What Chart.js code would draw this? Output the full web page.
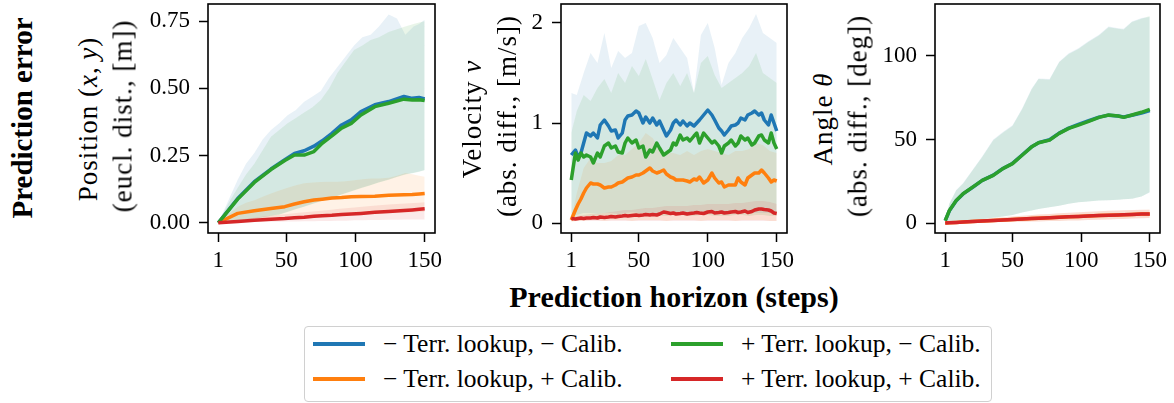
<!DOCTYPE html>
<html>
<head>
<meta charset="utf-8">
<script src="https://cdn.jsdelivr.net/npm/chart.js@4.4.1/dist/chart.umd.min.js"></script>
<style>
  body { margin: 0; background: #fff; }
  #fig { position: relative; width: 1174px; height: 403px; overflow: hidden; background: #fff;
         font-family: 'Liberation Serif', 'DejaVu Serif', serif; color: #000; }
  canvas { position: absolute; top: 0; }
  .rot { position: absolute; white-space: nowrap; transform: translate(-50%, -50%) rotate(-90deg); }
  .lbl { font-size: 27px; letter-spacing: 1px; }
  .bold { font-weight: bold; font-size: 30px; }
  #ytitle { font-size: 29px; }
  #xtitle { position: absolute; left: 674px; top: 297px; transform: translate(-50%, -50%); white-space: nowrap; }
  #legend { position: absolute; left: 304px; top: 326px; width: 686px; height: 74px;
            border: 1.5px solid #d0d0d0; border-radius: 4px; font-size: 25.5px; }
  .item { position: absolute; white-space: nowrap; }
  .swatch { position: absolute; width: 52px; height: 3.5px; }
</style>
</head>
<body>
<div id="fig">
  <canvas id="c1" width="325" height="280" style="left:118px"></canvas>
  <canvas id="c2" width="324" height="280" style="left:471px"></canvas>
  <canvas id="c3" width="323" height="280" style="left:845px"></canvas>

  <div id="ytitle" class="rot bold" style="left:22px; top:118px">Prediction error</div>
  <div class="rot lbl" style="left:88px; top:119px">Position (<i>x</i>,&#8201;<i>y</i>)</div>
  <div class="rot lbl" style="left:123px; top:116px">(eucl. dist., [m])</div>
  <div class="rot lbl" style="left:472px; top:119px">Velocity <i>v</i></div>
  <div class="rot lbl" style="left:507px; top:116px">(abs. diff., [m/s])</div>
  <div class="rot lbl" style="left:823px; top:119px">Angle <i>θ</i></div>
  <div class="rot lbl" style="left:858px; top:116px">(abs. diff., [deg])</div>
  <div id="xtitle" class="bold">Prediction horizon (steps)</div>

  <div id="legend"></div>
</div>
<script>
// colours (matplotlib tab10)
const colors = { blue: '#1f77b4', orange: '#ff7f0e', green: '#2ca02c', red: '#d62728' };
const bandFill = {
  blue: 'rgba(31,119,180,0.1)', orange: 'rgba(255,127,14,0.1)',
  green: 'rgba(44,160,44,0.1)', red: 'rgba(214,39,40,0.1)'
};

const xTicks = [1, 50, 100, 150];

// ---- Position (x, y) ----
const posSteps = [1, 15, 27, 39, 49, 56, 63, 70, 76, 83, 90, 97, 104, 114, 124, 135, 141, 146, 150];
const posBlue = [0, 0.09, 0.153, 0.2, 0.235, 0.258, 0.268, 0.285, 0.305, 0.333, 0.364, 0.383, 0.414, 0.439, 0.451, 0.47, 0.463, 0.466, 0.461];
const posGreen = [0, 0.088, 0.15, 0.198, 0.232, 0.252, 0.252, 0.265, 0.296, 0.323, 0.352, 0.37, 0.401, 0.432, 0.445, 0.46, 0.457, 0.458, 0.455];
const posOrange = [0, 0.035, 0.045, 0.053, 0.06, 0.07, 0.078, 0.085, 0.088, 0.092, 0.094, 0.097, 0.098, 0.099, 0.102, 0.104, 0.105, 0.107, 0.109];
const posRed = [0, 0.005, 0.009, 0.013, 0.016, 0.019, 0.021, 0.024, 0.026, 0.028, 0.031, 0.033, 0.035, 0.039, 0.042, 0.046, 0.048, 0.05, 0.052];

const posBandSteps = [1, 8, 15, 21, 27, 33, 39, 45, 51, 57, 63, 69, 75, 81, 87, 93, 99, 105, 111, 117, 124, 130, 136, 142, 146, 150];
const posBlueHi = [0, 0.08, 0.16, 0.22, 0.26, 0.31, 0.345, 0.37, 0.4, 0.42, 0.45, 0.47, 0.49, 0.54, 0.58, 0.62, 0.66, 0.69, 0.7, 0.73, 0.775, 0.76, 0.7, 0.73, 0.74, 0.755];
const posBlueLo = [0, 0.004, 0.008, 0.011, 0.016, 0.021, 0.026, 0.032, 0.041, 0.051, 0.061, 0.071, 0.081, 0.091, 0.101, 0.111, 0.121, 0.131, 0.141, 0.151, 0.161, 0.171, 0.181, 0.186, 0.191, 0.196];
const posGreenHi = [0, 0.07, 0.13, 0.18, 0.22, 0.27, 0.32, 0.345, 0.37, 0.39, 0.41, 0.43, 0.457, 0.5, 0.557, 0.6, 0.643, 0.66, 0.68, 0.69, 0.71, 0.72, 0.73, 0.74, 0.745, 0.75];
const posGreenLo = [0, 0.003, 0.007, 0.01, 0.015, 0.02, 0.025, 0.03, 0.04, 0.05, 0.06, 0.07, 0.08, 0.09, 0.1, 0.11, 0.12, 0.13, 0.14, 0.15, 0.16, 0.17, 0.18, 0.185, 0.19, 0.195];
const posOrangeHi = [0, 0.03, 0.06, 0.075, 0.084, 0.097, 0.109, 0.12, 0.13, 0.14, 0.147, 0.15, 0.152, 0.153, 0.153, 0.155, 0.158, 0.162, 0.165, 0.165, 0.168, 0.175, 0.185, 0.18, 0.175, 0.171];
const posOrangeLo = [0, 0.005, 0.01, 0.012, 0.014, 0.016, 0.018, 0.02, 0.022, 0.024, 0.026, 0.027, 0.028, 0.029, 0.03, 0.031, 0.032, 0.033, 0.034, 0.035, 0.036, 0.037, 0.038, 0.039, 0.04, 0.04];
const posRedHi = [0, 0.006, 0.011, 0.015, 0.019, 0.023, 0.026, 0.03, 0.033, 0.036, 0.039, 0.042, 0.045, 0.048, 0.051, 0.054, 0.057, 0.06, 0.062, 0.065, 0.068, 0.07, 0.072, 0.074, 0.075, 0.076];
const posRedLo = [0, 0.001, 0.002, 0.002, 0.003, 0.003, 0.004, 0.004, 0.005, 0.005, 0.006, 0.006, 0.007, 0.007, 0.008, 0.008, 0.009, 0.009, 0.01, 0.01, 0.011, 0.011, 0.012, 0.012, 0.012, 0.012];

// ---- Velocity v ----
const velSteps = [1, 4, 6, 8, 10, 12, 15, 17, 20, 22, 25, 28, 30, 33, 35, 38, 40, 42, 45, 48, 50, 53, 55, 58, 60, 63, 65, 68, 70, 73, 75, 77, 80, 82, 85, 87, 90, 92, 94, 97, 100, 103, 105, 108, 110, 112, 115, 117, 120, 122, 124, 127, 129, 132, 134, 137, 139, 141, 144, 146, 148, 150];
const velBlue = [0.68, 0.73, 0.66, 0.7, 0.8, 0.9, 0.87, 0.9, 0.85, 0.98, 1.03, 0.97, 0.92, 0.93, 0.85, 0.9, 1.03, 1.07, 1.08, 1.12, 1.1, 1.0, 1.06, 1.0, 1.05, 0.98, 1.02, 0.93, 0.87, 0.93, 1.0, 1.03, 0.98, 1.02, 0.97, 1.0, 0.97, 1.0, 1.03, 1.08, 1.13, 1.08, 1.03, 0.95, 0.92, 0.88, 0.93, 0.97, 0.98, 1.0, 1.05, 1.03, 1.08, 1.1, 1.12, 1.08, 1.1, 1.03, 0.98, 1.08, 1.0, 0.92];
const velGreen = [0.43, 0.7, 0.63, 0.7, 0.66, 0.68, 0.66, 0.6, 0.7, 0.66, 0.77, 0.8, 0.75, 0.77, 0.71, 0.7, 0.8, 0.85, 0.8, 0.83, 0.75, 0.77, 0.66, 0.73, 0.71, 0.8, 0.75, 0.68, 0.7, 0.73, 0.8, 0.78, 0.88, 0.83, 0.85, 0.82, 0.87, 0.9, 0.8, 0.9, 0.85, 0.8, 0.82, 0.77, 0.7, 0.77, 0.8, 0.83, 0.77, 0.8, 0.87, 0.83, 0.85, 0.78, 0.8, 0.87, 0.88, 0.83, 0.8, 0.9, 0.8, 0.74];
const velOrange = [0.03, 0.13, 0.19, 0.24, 0.3, 0.35, 0.4, 0.39, 0.39, 0.38, 0.35, 0.36, 0.36, 0.38, 0.4, 0.41, 0.43, 0.45, 0.46, 0.48, 0.48, 0.5, 0.52, 0.55, 0.52, 0.5, 0.51, 0.53, 0.49, 0.46, 0.45, 0.43, 0.43, 0.43, 0.42, 0.41, 0.44, 0.43, 0.46, 0.4, 0.43, 0.5, 0.45, 0.4, 0.41, 0.36, 0.38, 0.38, 0.38, 0.45, 0.41, 0.38, 0.45, 0.48, 0.5, 0.5, 0.53, 0.5, 0.45, 0.41, 0.43, 0.42];
const velRed = [0.045, 0.04, 0.045, 0.05, 0.045, 0.05, 0.05, 0.055, 0.05, 0.06, 0.055, 0.06, 0.065, 0.06, 0.065, 0.07, 0.075, 0.07, 0.075, 0.08, 0.075, 0.08, 0.085, 0.08, 0.085, 0.08, 0.09, 0.11, 0.105, 0.095, 0.1, 0.09, 0.095, 0.1, 0.09, 0.095, 0.1, 0.105, 0.1, 0.095, 0.11, 0.115, 0.1, 0.105, 0.11, 0.1, 0.105, 0.11, 0.115, 0.105, 0.11, 0.12, 0.105, 0.115, 0.13, 0.14, 0.14, 0.135, 0.13, 0.12, 0.1, 0.095];

const velBandSteps = [1, 5, 10, 15, 20, 25, 30, 35, 40, 45, 50, 55, 60, 65, 70, 75, 80, 85, 90, 95, 100, 105, 110, 115, 120, 125, 130, 135, 140, 145, 150];
const velBlueHi = [1.3, 1.28, 1.5, 1.7, 1.6, 1.9, 1.55, 1.72, 1.65, 1.7, 1.97, 2.0, 1.85, 1.6, 1.68, 1.85, 1.75, 1.65, 1.3, 1.88, 2.0, 1.75, 1.38, 1.6, 1.7, 1.85, 1.95, 2.09, 1.9, 1.85, 1.8];
const velBlueLo = [0.06, 0.08, 0.1, 0.1, 0.09, 0.1, 0.1, 0.09, 0.1, 0.11, 0.1, 0.1, 0.1, 0.09, 0.1, 0.1, 0.1, 0.1, 0.09, 0.1, 0.1, 0.1, 0.1, 0.09, 0.1, 0.1, 0.1, 0.1, 0.1, 0.1, 0.1];
const velGreenHi = [0.9, 1.12, 1.28, 1.22, 1.35, 1.44, 1.3, 1.5, 1.4, 1.57, 1.47, 1.64, 1.44, 1.23, 1.4, 1.5, 1.37, 1.5, 1.3, 1.6, 1.67, 1.48, 1.35, 1.4, 1.45, 1.5, 1.57, 1.7, 1.5, 1.45, 1.4];
const velGreenLo = [0.05, 0.06, 0.07, 0.07, 0.07, 0.08, 0.07, 0.07, 0.08, 0.08, 0.07, 0.07, 0.08, 0.07, 0.07, 0.08, 0.08, 0.07, 0.07, 0.08, 0.08, 0.07, 0.07, 0.07, 0.08, 0.08, 0.07, 0.08, 0.08, 0.07, 0.07];
const velOrangeHi = [0.05, 0.3, 0.55, 0.65, 0.6, 0.6, 0.62, 0.68, 0.68, 0.74, 0.8, 0.9, 0.85, 0.75, 0.7, 0.7, 0.68, 0.72, 0.68, 0.72, 0.74, 0.72, 0.7, 0.68, 0.72, 0.72, 0.74, 0.8, 0.78, 0.72, 0.7];
const velOrangeLo = [0.01, 0.02, 0.02, 0.03, 0.03, 0.02, 0.03, 0.03, 0.03, 0.02, 0.03, 0.03, 0.03, 0.03, 0.02, 0.03, 0.03, 0.03, 0.03, 0.02, 0.03, 0.03, 0.03, 0.03, 0.02, 0.03, 0.03, 0.03, 0.03, 0.02, 0.02];
const velRedHi = [0.06, 0.07, 0.08, 0.09, 0.09, 0.1, 0.11, 0.12, 0.13, 0.13, 0.14, 0.15, 0.15, 0.16, 0.17, 0.17, 0.17, 0.17, 0.18, 0.18, 0.19, 0.19, 0.19, 0.19, 0.2, 0.2, 0.21, 0.22, 0.22, 0.21, 0.19];
const velRedLo = [0.03, 0.02, 0.02, 0.02, 0.02, 0.02, 0.02, 0.02, 0.02, 0.02, 0.02, 0.02, 0.02, 0.02, 0.02, 0.02, 0.02, 0.02, 0.02, 0.02, 0.02, 0.02, 0.02, 0.02, 0.02, 0.02, 0.02, 0.02, 0.02, 0.02, 0.02];

// ---- Angle theta ----
const angSteps = [1, 4, 9, 14, 21, 28, 36, 43, 50, 57, 64, 69, 77, 84, 91, 98, 105, 113, 120, 127, 131, 137, 144, 150];
const angBlue = [1.6, 7.4, 13.4, 17.5, 21.5, 25.6, 28.7, 32.7, 35.7, 40.7, 45.7, 48.1, 49.8, 53.8, 56.8, 59.0, 61.0, 63.3, 64.5, 64.0, 63.4, 64.4, 65.8, 67.3];
const angGreen = [1.6, 7.6, 13.6, 17.6, 21.6, 25.6, 28.6, 32.6, 35.6, 40.6, 45.6, 48.0, 49.6, 53.6, 56.6, 58.6, 60.6, 63.2, 64.6, 64.0, 63.2, 64.6, 66.2, 68.0];
const angOrange = [0.2, 0.3, 0.5, 0.7, 1.0, 1.3, 1.6, 1.9, 2.2, 2.5, 2.8, 3.0, 3.3, 3.6, 3.9, 4.1, 4.3, 4.6, 4.8, 5.0, 5.1, 5.3, 5.5, 5.6];
const angRed = [0.2, 0.3, 0.5, 0.7, 1.0, 1.3, 1.6, 1.9, 2.2, 2.5, 2.8, 3.0, 3.3, 3.6, 3.9, 4.1, 4.3, 4.6, 4.8, 5.0, 5.1, 5.3, 5.5, 5.6];
const angBlueHi = [1.6, 11.8, 19.8, 24.0, 32.0, 40.0, 50.0, 54.4, 58.4, 68.4, 80.4, 86.4, 86.0, 96.4, 101.4, 104.4, 108.4, 112.4, 117.4, 116.4, 116.0, 120.4, 122.4, 123.0];
const angBlueLo = [0, 0.5, 1.0, 1.6, 2.0, 2.6, 3.3, 4.0, 5.0, 6.5, 7.6, 8.5, 9.5, 10.5, 11.6, 12.5, 13.0, 13.6, 13.8, 14.0, 14.3, 14.6, 16.0, 18.4];
const angGreenHi = [1.6, 11.6, 19.6, 23.6, 31.6, 39.6, 49.6, 54.0, 58.0, 68.0, 80.0, 86.0, 85.6, 96.0, 101.0, 104.0, 108.0, 112.0, 117.0, 116.0, 115.6, 120.0, 122.0, 123.6];
const angGreenLo = [0, 0.5, 1.0, 1.6, 2.0, 2.6, 3.3, 4.0, 5.0, 6.5, 7.6, 8.5, 9.5, 10.5, 11.6, 12.5, 13.0, 13.6, 13.8, 14.0, 14.3, 14.6, 16.0, 18.6];
const angOrangeHi = [0.4, 0.8, 1.2, 1.6, 2.1, 2.6, 3.1, 3.6, 4.1, 4.5, 4.9, 5.2, 5.6, 6.0, 6.3, 6.6, 6.9, 7.2, 7.4, 7.6, 7.7, 7.9, 8.1, 8.2];
const angOrangeLo = [0, 0.1, 0.2, 0.3, 0.4, 0.5, 0.6, 0.7, 0.8, 0.9, 1.0, 1.1, 1.3, 1.4, 1.6, 1.7, 1.9, 2.1, 2.3, 2.5, 2.6, 2.8, 3.0, 3.2];
const angRedHi = [0.4, 0.8, 1.2, 1.6, 2.1, 2.6, 3.1, 3.6, 4.1, 4.5, 4.9, 5.2, 5.6, 6.0, 6.3, 6.6, 6.9, 7.2, 7.4, 7.6, 7.7, 7.9, 8.0, 8.1];
const angRedLo = [0, 0.1, 0.2, 0.3, 0.4, 0.5, 0.6, 0.7, 0.8, 0.9, 1.0, 1.1, 1.3, 1.4, 1.6, 1.7, 1.9, 2.1, 2.3, 2.5, 2.6, 2.8, 3.0, 3.2];

const legendLabels = {
  blue: '− Terr. lookup, − Calib.',
  orange: '− Terr. lookup, + Calib.',
  green: '+ Terr. lookup, − Calib.',
  red: '+ Terr. lookup, + Calib.'
};

const pts = (xs, ys) => xs.map((x, i) => ({ x: x, y: ys[i] }));

const boxPlugin = {
  id: 'box',
  afterDraw(chart) {
    const a = chart.chartArea, ctx = chart.ctx;
    ctx.save();
    ctx.strokeStyle = '#000';
    ctx.lineWidth = 1.6;
    ctx.strokeRect(a.left, a.top, a.right - a.left, a.bottom - a.top);
    ctx.restore();
  }
};

const tickFont = { family: "'Liberation Serif', serif", size: 23 };

// scales keep a fixed size and no label overhang, so every chart area lands where the figure has it
function fixSize(sc, w, h) {
  if (w !== null) sc.width = w;
  if (h !== null) sc.height = h;
  sc.paddingTop = 0; sc.paddingBottom = 0; sc.paddingLeft = 0; sc.paddingRight = 0;
}

function makePanel(id, s, yOpts) {
  const order = ['red', 'green', 'orange', 'blue'];
  const datasets = [];
  order.forEach(k => {
    datasets.push({ data: pts(s.steps, s.mean[k]), borderColor: colors[k], borderWidth: 3.5,
      pointRadius: 0, tension: 0, fill: false, borderJoinStyle: 'round' });
  });
  order.forEach(k => {
    datasets.push({ data: pts(s.bandSteps, s.hi[k]), borderWidth: 0, pointRadius: 0,
      backgroundColor: bandFill[k], fill: '+1' });
    datasets.push({ data: pts(s.bandSteps, s.lo[k]), borderWidth: 0, pointRadius: 0, fill: false });
  });

  new Chart(document.getElementById(id), {
    type: 'line',
    data: { datasets: datasets },
    plugins: [boxPlugin],
    options: {
      responsive: false,
      animation: false,
      devicePixelRatio: 1,
      layout: { padding: { top: 4, right: 8, left: 0, bottom: 0 } },
      plugins: { legend: { display: false }, tooltip: { enabled: false }, filler: { drawTime: 'beforeDatasetsDraw' } },
      scales: {
        x: {
          type: 'linear', min: -6.45, max: 157.45,
          afterBuildTicks: ax => { ax.ticks = xTicks.map(v => ({ value: v })); },
          afterFit: sc => fixSize(sc, null, 47),
          grid: { drawOnChartArea: false, drawTicks: true, tickLength: 9, tickWidth: 1.5, tickColor: '#000' },
          border: { display: false },
          ticks: { font: tickFont, color: '#000', padding: 5, maxRotation: 0, autoSkip: false }
        },
        y: {
          type: 'linear', min: yOpts.min, max: yOpts.max,
          afterBuildTicks: ax => { ax.ticks = yOpts.ticks.map(v => ({ value: v })); },
          afterFit: sc => fixSize(sc, 90, null),
          grid: { drawOnChartArea: false, drawTicks: true, tickLength: 9, tickWidth: 1.5, tickColor: '#000' },
          border: { display: false },
          ticks: { font: tickFont, color: '#000', padding: 9, callback: yOpts.fmt }
        }
      }
    }
  });
}

makePanel('c1', {
  steps: posSteps, bandSteps: posBandSteps,
  mean: { blue: posBlue, green: posGreen, orange: posOrange, red: posRed },
  hi: { blue: posBlueHi, green: posGreenHi, orange: posOrangeHi, red: posRedHi },
  lo: { blue: posBlueLo, green: posGreenLo, orange: posOrangeLo, red: posRedLo }
}, { min: -0.038, max: 0.814, ticks: [0, 0.25, 0.5, 0.75], fmt: v => v.toFixed(2) });

makePanel('c2', {
  steps: velSteps, bandSteps: velBandSteps,
  mean: { blue: velBlue, green: velGreen, orange: velOrange, red: velRed },
  hi: { blue: velBlueHi, green: velGreenHi, orange: velOrangeHi, red: velRedHi },
  lo: { blue: velBlueLo, green: velGreenLo, orange: velOrangeLo, red: velRedLo }
}, { min: -0.1, max: 2.19, ticks: [0, 1, 2], fmt: v => String(v) });

makePanel('c3', {
  steps: angSteps, bandSteps: angSteps,
  mean: { blue: angBlue, green: angGreen, orange: angOrange, red: angRed },
  hi: { blue: angBlueHi, green: angGreenHi, orange: angOrangeHi, red: angRedHi },
  lo: { blue: angBlueLo, green: angGreenLo, orange: angOrangeLo, red: angRedLo }
}, { min: -5.8, max: 130.8, ticks: [0, 50, 100], fmt: v => String(v) });

// legend, two columns like matplotlib's ncol=2
const legend = document.getElementById('legend');
const slots = [
  ['blue', 8, 17], ['orange', 8, 52], ['green', 366, 17], ['red', 366, 52]
];
slots.forEach(([k, x, y]) => {
  const sw = document.createElement('div');
  sw.className = 'swatch';
  sw.style.cssText = 'left:' + x + 'px; top:' + (y - 1.75) + 'px; background:' + colors[k];
  legend.appendChild(sw);
  const t = document.createElement('div');
  t.className = 'item';
  t.style.cssText = 'left:' + (x + 70) + 'px; top:' + y + 'px; transform: translateY(-50%)';
  t.textContent = legendLabels[k];
  legend.appendChild(t);
});
</script>
</body>
</html>
